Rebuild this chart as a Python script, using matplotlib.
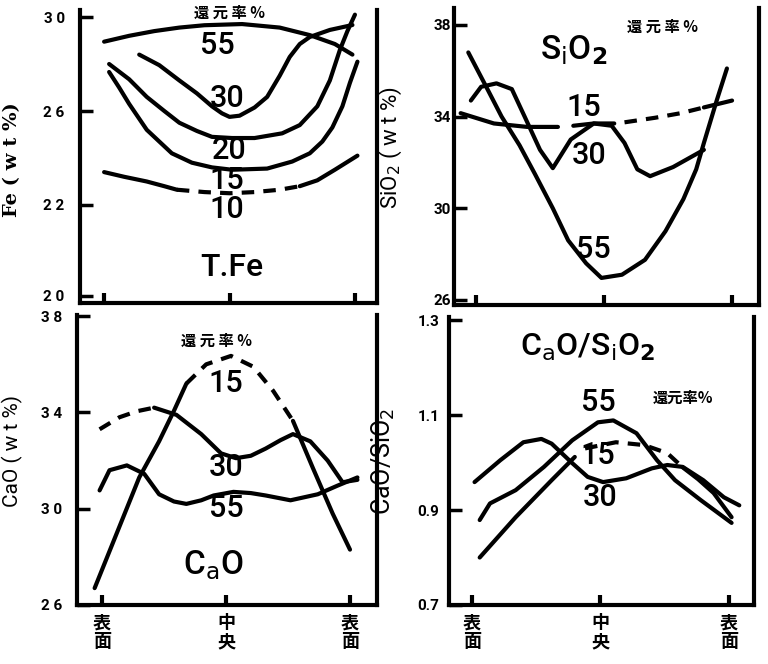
import matplotlib
matplotlib.use("Agg")
import matplotlib.pyplot as plt

JP = ['Noto Sans CJK JP', 'DejaVu Sans']
NUM = ['Roboto', 'DejaVu Sans']

# x: 0 = 表面, 0.5 = 中央, 1 = 表面
pos_labels = ['表\n面', '中\n央', '表\n面']

# --- T.Fe ---
fe55_x = [0.0, 0.1, 0.2, 0.3, 0.4, 0.55, 0.7, 0.82, 0.92, 0.99]
fe55_y = [28.95, 29.2, 29.4, 29.55, 29.65, 29.7, 29.55, 29.23, 28.85, 28.4]
fe30_x = [0.14, 0.22, 0.30, 0.37, 0.43, 0.47, 0.50, 0.54, 0.60, 0.65, 0.70, 0.74, 0.78, 0.82, 0.90, 0.99]
fe30_y = [28.4, 27.95, 27.3, 26.75, 26.2, 25.9, 25.75, 25.8, 26.15, 26.6, 27.5, 28.3, 28.85, 29.15, 29.45, 29.66]
fe20_x = [0.02, 0.10, 0.17, 0.24, 0.30, 0.37, 0.43, 0.51, 0.60, 0.71, 0.78, 0.85, 0.90, 0.94, 0.97, 1.0]
fe20_y = [28.0, 27.35, 26.6, 26.0, 25.5, 25.15, 24.9, 24.85, 24.85, 25.05, 25.4, 26.2, 27.3, 28.6, 29.4, 30.1]
fe15_x = [0.02, 0.06, 0.10, 0.17, 0.27, 0.35, 0.43, 0.51, 0.65, 0.75, 0.82, 0.87, 0.91, 0.95, 0.98, 1.01]
fe15_y = [27.66, 27.0, 26.3, 25.2, 24.2, 23.8, 23.6, 23.5, 23.55, 23.85, 24.2, 24.7, 25.3, 26.2, 27.2, 28.1]
fe10_x = [0.0, 0.08, 0.17, 0.24, 0.29, 0.4, 0.5, 0.6, 0.7, 0.78, 0.85, 0.92, 1.01]
fe10_y = [23.4, 23.2, 23.0, 22.8, 22.65, 22.55, 22.5, 22.55, 22.65, 22.8, 23.05, 23.5, 24.1]

# --- SiO2 ---
si55_x = [-0.03, 0.04, 0.10, 0.17, 0.23, 0.30, 0.36, 0.43, 0.49, 0.57, 0.66, 0.74, 0.81, 0.86, 0.89, 0.94, 0.98]
si55_y = [36.8, 35.3, 34.0, 32.75, 31.5, 30.0, 28.6, 27.6, 26.96, 27.1, 27.75, 29.0, 30.4, 31.7, 32.85, 34.7, 36.1]
si30_x = [-0.02, 0.02, 0.08, 0.14, 0.19, 0.25, 0.30, 0.37, 0.46, 0.53, 0.58, 0.63, 0.68, 0.77, 0.89]
si30_y = [34.7, 35.3, 35.45, 35.2, 34.0, 32.55, 31.75, 33.0, 33.7, 33.6, 32.85, 31.7, 31.4, 31.8, 32.55]
si15_x = [-0.06, 0.07, 0.20, 0.32, 0.38, 0.46, 0.54, 0.58, 0.70, 0.80, 0.89, 1.0]
si15_y = [34.15, 33.7, 33.55, 33.55, 33.6, 33.7, 33.7, 33.75, 33.95, 34.15, 34.4, 34.7]

# --- CaO ---
ca15_x = [-0.03, 0.06, 0.15, 0.23, 0.29, 0.34, 0.42, 0.52, 0.61, 0.69, 0.77, 0.85, 0.93, 1.0]
ca15_y = [26.7, 29.0, 31.3, 32.8, 34.07, 35.2, 36.0, 36.35, 35.9, 34.9, 33.65, 31.7, 29.8, 28.3]
ca30_x = [-0.01, 0.07, 0.14, 0.21, 0.30, 0.40, 0.48, 0.54, 0.60, 0.66, 0.72, 0.77, 0.84, 0.91, 0.97, 1.03]
ca30_y = [33.3, 33.8, 34.05, 34.2, 33.9, 33.1, 32.3, 32.1, 32.2, 32.5, 32.85, 33.1, 32.8, 32.0, 31.1, 31.2]
ca55_x = [-0.01, 0.03, 0.10, 0.17, 0.23, 0.29, 0.34, 0.40, 0.45, 0.53, 0.60, 0.66, 0.76, 0.87, 0.95, 1.03]
ca55_y = [30.76, 31.6, 31.8, 31.45, 30.6, 30.3, 30.2, 30.35, 30.55, 30.7, 30.65, 30.55, 30.35, 30.6, 30.96, 31.3]

# --- CaO/SiO2 ---
r30_x = [0.01, 0.11, 0.20, 0.27, 0.31, 0.39, 0.45, 0.51, 0.60, 0.70, 0.76, 0.82, 0.90, 0.98, 1.04]
r30_y = [0.959, 1.005, 1.043, 1.05, 1.04, 0.999, 0.970, 0.959, 0.967, 0.988, 0.995, 0.991, 0.963, 0.927, 0.91]
r55_x = [0.03, 0.07, 0.17, 0.28, 0.39, 0.49, 0.55, 0.64, 0.72, 0.79, 0.89, 1.01]
r55_y = [0.879, 0.914, 0.942, 0.991, 1.047, 1.085, 1.089, 1.062, 1.005, 0.963, 0.921, 0.873]
r15_x = [0.03, 0.17, 0.31, 0.40, 0.44, 0.56, 0.67, 0.76, 0.82, 0.88, 0.94, 1.01]
r15_y = [0.80, 0.885, 0.963, 1.012, 1.03, 1.043, 1.037, 1.02, 0.99, 0.965, 0.936, 0.885]

LW = 3.0
DASH = (0, (3, 2.2))


def seg(ax, xs, ys, i0, i1, dashed=False):
    ax.plot(xs[i0:i1 + 1], ys[i0:i1 + 1], color='black', lw=LW,
            ls=DASH if dashed else '-', solid_capstyle='round',
            dash_capstyle='butt', solid_joinstyle='round')


def frame(ax, xlim, ylim, yticks, ylabels, pad, xlab=False):
    ax.set_xlim(*xlim)
    ax.set_ylim(*ylim)
    ax.spines['top'].set_visible(False)
    for s in ['left', 'right', 'bottom']:
        ax.spines[s].set_linewidth(3)
    ax.set_xticks([0, 0.5, 1])
    ax.set_yticks(yticks)
    ax.set_yticklabels(ylabels, family=NUM, fontsize=11, fontweight='bold')
    ax.tick_params(axis='y', direction='in', length=9, width=2.5, pad=pad)
    ax.tick_params(axis='x', direction='in', length=7, width=3, pad=6)
    if xlab:
        ax.set_xticklabels(pos_labels, family=JP, fontsize=13,
                           fontweight='bold', linespacing=1.0)
    else:
        ax.set_xticklabels([])


def num(ax, t, x, y, size=22):
    ax.text(x, y, t, family=NUM, fontsize=size, fontweight='medium',
            ha='center', va='center')


fig = plt.figure(figsize=(7.68, 6.64), dpi=100)

# T.Fe
ax1 = fig.add_axes([0.1042, 0.5437, 0.3867, 0.4413])
frame(ax1, (-0.096, 1.088), (17.83, 30.3), [18.13, 22, 26, 30],
      ['2 0', '2 2', '2 6', '3 0'], 11)
seg(ax1, fe55_x, fe55_y, 0, len(fe55_x) - 1)
seg(ax1, fe30_x, fe30_y, 0, len(fe30_x) - 1)
seg(ax1, fe20_x, fe20_y, 0, len(fe20_x) - 1)
seg(ax1, fe15_x, fe15_y, 0, len(fe15_x) - 1)
seg(ax1, fe10_x, fe10_y, 0, 4)
seg(ax1, fe10_x, fe10_y, 4, 9, dashed=True)
seg(ax1, fe10_x, fe10_y, 9, 12)
ax1.text(0.5, 30.2, '還 元 率 %', family=JP, fontsize=11, fontweight='bold',
         ha='center', va='center')
for t, x, y in [('55', 0.45, 28.8), ('30', 0.49, 26.55), ('20', 0.5, 24.34),
                ('15', 0.49, 23.06), ('10', 0.49, 21.79)]:
    num(ax1, t, x, y)
ax1.text(0.51, 19.32, 'T.Fe', family=NUM, fontsize=23, ha='center',
         va='center', fontweight='medium')
ax1.set_ylabel('Fe ( w t %)', family='DejaVu Serif', fontsize=14,
               fontweight='bold')
ax1.yaxis.set_label_coords(-0.2, 0.49)

# SiO2
ax2 = fig.add_axes([0.5911, 0.5407, 0.3971, 0.4473])
frame(ax2, (-0.086, 1.105), (25.78, 38.74), [26, 30, 34, 38],
      ['26', '30', '34', '38'], 2)
seg(ax2, si55_x, si55_y, 0, len(si55_x) - 1)
seg(ax2, si30_x, si30_y, 0, len(si30_x) - 1)
seg(ax2, si15_x, si15_y, 0, 3)
seg(ax2, si15_x, si15_y, 4, 6)
seg(ax2, si15_x, si15_y, 7, 10, dashed=True)
seg(ax2, si15_x, si15_y, 10, 11)
ax2.text(0.73, 37.9, '還 元 率 %', family=JP, fontsize=11, fontweight='bold',
         ha='center', va='center')
ax2.text(0.38, 36.9, r'S$_\mathrm{i}$O$_\mathbf{2}$', family=NUM, fontsize=24,
         ha='center', va='center', fontweight='medium')
for t, x, y in [('15', 0.42, 34.4), ('30', 0.44, 32.3), ('55', 0.46, 28.2)]:
    num(ax2, t, x, y)
ax2.set_ylabel(r'SiO$_2$ ( w t %)', family=NUM, fontsize=16)
ax2.yaxis.set_label_coords(-0.165, 0.53)

# CaO
ax3 = fig.add_axes([0.1003, 0.0889, 0.3906, 0.4367])
frame(ax3, (-0.101, 1.109), (26, 38.05), [26, 30, 34, 38],
      ['2 6', '3 0', '3 4', '3 8'], 11, xlab=True)
seg(ax3, ca15_x, ca15_y, 0, 5)
seg(ax3, ca15_x, ca15_y, 5, 10, dashed=True)
seg(ax3, ca15_x, ca15_y, 10, 13)
seg(ax3, ca30_x, ca30_y, 0, 3, dashed=True)
seg(ax3, ca30_x, ca30_y, 3, len(ca30_x) - 1)
seg(ax3, ca55_x, ca55_y, 0, len(ca55_x) - 1)
ax3.text(0.46, 36.97, '還 元 率 %', family=JP, fontsize=11, fontweight='bold',
         ha='center', va='center')
for t, x, y in [('15', 0.5, 35.2), ('30', 0.5, 31.7), ('55', 0.5, 30.0)]:
    num(ax3, t, x, y)
ax3.text(0.45, 27.65, r'C$_\mathrm{a}$O', family=NUM, fontsize=24,
         ha='center', va='center', fontweight='medium')
ax3.set_ylabel('CaO ( w t %)', family=NUM, fontsize=15)
ax3.yaxis.set_label_coords(-0.18, 0.53)

# CaO/SiO2
ax4 = fig.add_axes([0.5846, 0.0889, 0.3971, 0.4337])
frame(ax4, (-0.0895, 1.097), (0.7, 1.307), [0.7, 0.9, 1.1, 1.3],
      ['0.7', '0.9', '1.1', '1.3'], 7, xlab=True)
seg(ax4, r30_x, r30_y, 0, len(r30_x) - 1)
seg(ax4, r55_x, r55_y, 0, len(r55_x) - 1)
seg(ax4, r15_x, r15_y, 0, 3)
seg(ax4, r15_x, r15_y, 4, 8, dashed=True)
seg(ax4, r15_x, r15_y, 8, 11)
ax4.text(0.45, 1.243, r'C$_\mathrm{a}$O/S$_\mathrm{i}$O$_\mathbf{2}$', family=NUM,
         fontsize=23, ha='center', va='center', fontweight='medium')
ax4.text(0.82, 1.136, '還元率%', family=JP, fontsize=11, fontweight='bold',
         ha='center', va='center')
for t, x, y in [('55', 0.49, 1.127), ('15', 0.49, 1.016), ('30', 0.5, 0.927)]:
    num(ax4, t, x, y)
ax4.set_ylabel(r'CaO/SiO$_2$', family=NUM, fontsize=18)
ax4.yaxis.set_label_coords(-0.17, 0.5)

fig.savefig('out.png', dpi=100)
